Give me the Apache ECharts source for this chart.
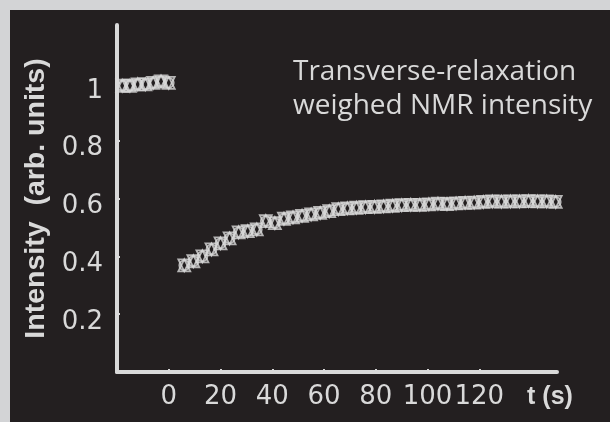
<!DOCTYPE html>
<html><head><meta charset="utf-8">
<script src="https://cdn.jsdelivr.net/npm/echarts@6/dist/echarts.min.js"></script>
<style>
html,body{margin:0;padding:0;background:#d3d4d6;width:610px;height:422px;overflow:hidden}
#c{position:absolute;left:10px;top:10px;width:600px;height:412px}
</style></head><body><div id="c"></div>
<script>
// t (s) and intensity (arb. units)
const tBefore = [-18, -15, -12, -9, -6, -3, 0];
const iBefore = [0.990, 0.990, 0.995, 0.995, 1.000, 1.005, 1.000];
const tAfter = [6, 9.5, 13, 16.5, 20, 23.5, 27, 30.5, 34, 37.5, 41, 44.5, 48, 51.5, 55, 58.5, 62, 65.5, 69, 72.5, 76, 79.5, 83, 86.5, 90, 93.5, 97, 100.5, 104, 107.5, 111, 114.5, 118, 121.5, 125, 128.5, 132, 135.5, 139, 142.5, 146, 149.5];
const iAfter = [0.369, 0.383, 0.400, 0.424, 0.445, 0.462, 0.483, 0.487, 0.493, 0.522, 0.515, 0.530, 0.535, 0.540, 0.545, 0.550, 0.556, 0.563, 0.566, 0.568, 0.570, 0.571, 0.573, 0.575, 0.577, 0.578, 0.578, 0.580, 0.582, 0.581, 0.583, 0.585, 0.586, 0.588, 0.590, 0.589, 0.590, 0.590, 0.591, 0.590, 0.590, 0.588];
const xTicks = [0, 20, 40, 60, 80, 100, 120];
const yTicks = [0.2, 0.4, 0.6, 0.8, 1];
const titleLines = ['Transverse-relaxation', 'weighed NMR intensity'];
const xName = 't (s)';
const yName = 'Intensity  (arb. units)';

const pts = tBefore.map((t, i) => [t, iBefore[i]]).concat(tAfter.map((t, i) => [t, iAfter[i]]));
const fg = '#d9d9d9';
const markerStyle = {color: 'transparent', borderColor: fg, borderWidth: 1.8};
const chart = echarts.init(document.getElementById('c'));
chart.setOption({
  backgroundColor: '#231f20',
  animation: false,
  title: {
    text: titleLines.join('\n'), left: 278, top: 40,
    textStyle: {color: fg, fontFamily: 'Open Sans', fontWeight: 'normal', fontSize: 28, lineHeight: 34}
  },
  grid: {left: 107, right: 53, top: 15, bottom: 50},
  xAxis: {
    type: 'value', min: -20, max: 150, interval: 20,
    name: xName, nameLocation: 'end', nameGap: -7,
    nameTextStyle: {color: fg, fontFamily: 'Liberation Sans', fontWeight: 'bold', fontSize: 25, align: 'center', verticalAlign: 'top', padding: [13, 0, 0, 0]},
    axisLine: {onZero: false, lineStyle: {color: fg, width: 4}},
    axisTick: {show: true, inside: true, length: 3, customValues: xTicks, lineStyle: {color: fg, width: 2}},
    axisLabel: {customValues: xTicks, color: fg, fontFamily: 'DejaVu Sans', fontSize: 26, margin: 12},
    splitLine: {show: false}
  },
  yAxis: {
    type: 'value', min: 0, max: 1.2, interval: 0.2,
    name: yName, nameLocation: 'middle', nameGap: 63, nameRotate: 90,
    nameTextStyle: {color: fg, fontFamily: 'Liberation Sans', fontWeight: 'bold', fontSize: 28.5},
    axisLine: {show: true, onZero: false, lineStyle: {color: fg, width: 4}},
    axisTick: {show: true, inside: true, length: 3, customValues: yTicks, lineStyle: {color: fg, width: 2}},
    axisLabel: {customValues: yTicks, color: fg, fontFamily: 'DejaVu Sans', fontSize: 26, margin: 14, verticalAlign: 'top', lineHeight: 16},
    splitLine: {show: false}
  },
  series: [
    {type: 'scatter', data: pts, symbol: 'circle', symbolSize: 10, itemStyle: markerStyle},
    {type: 'scatter', data: pts, symbol: 'triangle', symbolSize: 12, itemStyle: markerStyle},
    {type: 'scatter', data: pts, symbol: 'triangle', symbolRotate: 180, symbolSize: 12, itemStyle: markerStyle}
  ]
});
</script></body></html>
